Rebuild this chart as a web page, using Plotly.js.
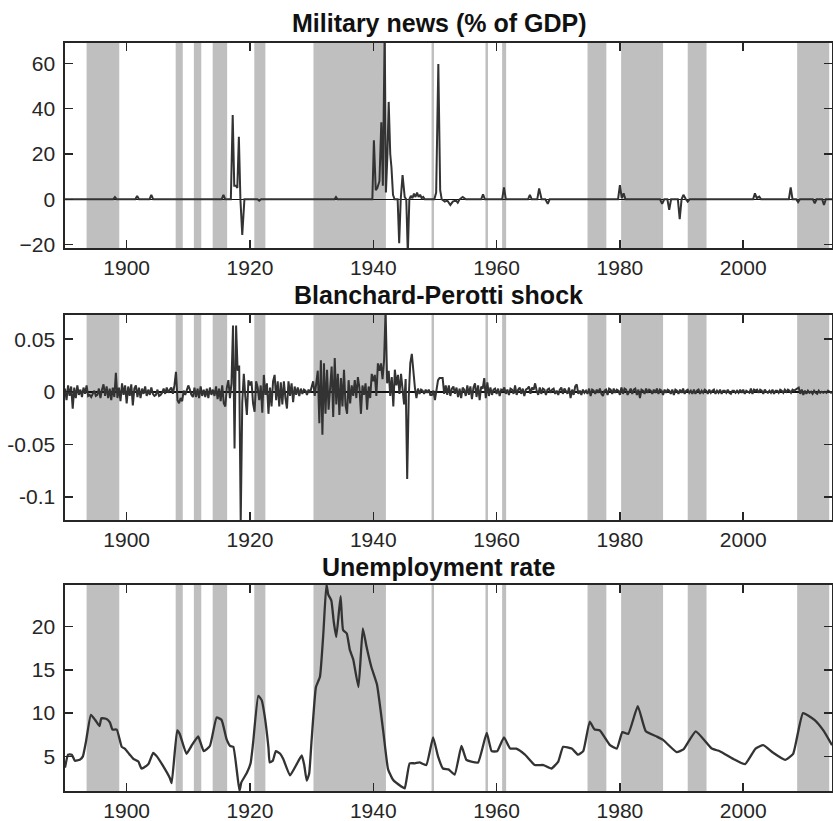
<!DOCTYPE html>
<html>
<head>
<meta charset="utf-8">
<script src="https://cdn.plot.ly/plotly-3.0.1.min.js"></script>
<style>html,body{margin:0;padding:0;background:#fff;}#chart{width:833px;height:821px;}</style>
</head>
<body>
<div id="chart"></div>
<script>
// ---------- data ----------
const panelTitles = ["Military news (% of GDP)", "Blanchard-Perotti shock", "Unemployment rate"];

// slack periods (unemployment above threshold), shaded
const bandStart = [1893.5, 1907.95, 1910.9, 1913.95, 1920.7, 1930.3, 1949.45, 1958.2, 1960.9, 1974.75, 1980.2, 1991.0, 2008.75];
const bandEnd   = [1898.8, 1909.1, 1912.1, 1916.3, 1922.5, 1942.05, 1949.85, 1958.6, 1961.55, 1977.8, 1987.0, 1994.05, 2013.95];

// Military news (% of GDP)
const milDates = [1890, 1897.8, 1898.1, 1898.4, 1901.4, 1901.7, 1902.0, 1903.7, 1904.0, 1904.3,
  1915.4, 1915.7, 1916.0, 1916.9, 1917.2, 1917.45, 1917.7, 1917.95, 1918.2, 1918.45, 1918.75, 1919.1,
  1921.2, 1921.5, 1921.8, 1933.7, 1933.95, 1934.2,
  1939.6, 1939.85, 1940.1, 1940.4, 1940.65, 1941.0, 1941.3, 1941.55, 1941.85, 1942.05, 1942.3, 1942.5,
  1942.75, 1942.95, 1943.2, 1943.45, 1943.95, 1944.2, 1944.45, 1944.75, 1945.1, 1945.35, 1945.6, 1945.85,
  1946.1, 1946.35, 1946.6, 1946.85, 1947.1, 1947.35, 1947.6, 1947.85, 1948.1, 1948.35,
  1949.9, 1950.2, 1950.55, 1950.85, 1951.1, 1951.6, 1952.0, 1952.5, 1952.9, 1953.4, 1953.7, 1954.0, 1954.5, 1955.0,
  1957.5, 1957.8, 1958.1, 1960.9, 1961.2, 1961.5, 1965.1, 1965.4, 1965.7, 1966.6, 1966.9, 1967.3, 1967.9, 1968.3, 1968.6,
  1979.7, 1980.0, 1980.3, 1980.6, 1980.9, 1986.5, 1986.85, 1987.2, 1987.7, 1988.0, 1988.3,
  1989.4, 1989.7, 1990.0, 1990.3, 1990.7, 1991.0, 1991.3,
  2001.6, 2001.9, 2002.2, 2002.6, 2002.9, 2007.4, 2007.7, 2008.0, 2008.6, 2008.9, 2009.2,
  2011.3, 2011.6, 2011.9, 2012.8, 2013.1, 2013.4, 2014.4];
const milNews = [0, 0, 1, 0, 0, 1.5, 0, 0, 2, 0,
  0, 2, 0, 0, 37.2, 6, 6, 5, 27.6, 0, -15.7, 0,
  0, -0.6, 0, 0, 1, 0,
  0, 0, 26, 4, 5, 8, 34, 6, 75, 3, 20, 43,
  20, 14, 2, 0, 0, -19.4, 0, 10.7, 1, 0, -24, 0,
  1.5, 0.5, 2.5, 1, 3, 1, 2, 0.5, 1, 0,
  0, 3, 59.7, 4, 0, -1, -0.5, -2.5, -1, -0.5, -1.5, 0, 1, 0,
  0, 2.2, 0, 0, 5.3, 0, 0, 2, 0, 0, 4.8, 0, 0, -2, 0,
  0, 6.3, 0.5, 2.6, 0, 0, -2, 0, 0, -4.7, 0,
  0, -8.8, 0, 2, 0, -1, 0,
  0, 2.6, 0.5, 1.2, 0, 0, 5.3, 0, 0, -1.3, 0,
  0, -1.8, 0, 0, -2.5, 0, 0];

// Blanchard-Perotti shock, quarterly from 1890Q1
const bpStart = 1890;
const bpShock = [
  0.003, -0.008, 0.006, -0.004,   0.005, -0.016, 0.004, -0.006,   0.006, -0.003, 0.002, -0.005,   0.004, -0.002, 0.006, -0.004,
  -0.003, -0.005, -0.002, 0.001,  -0.004, -0.003, 0.003, -0.006,  0.002, 0.007, -0.004, 0.005,    -0.006, 0.003, -0.008, 0.004,
  -0.005, 0.018, -0.006, 0.004,   -0.009, 0.008, -0.003, 0.006,
  -0.011, 0.005, -0.004, 0.007,   -0.013, 0.003, 0.006, -0.005,   0.004, -0.006, 0.003, -0.002,   0.005, -0.004, 0.002, -0.003,
  0.004, -0.002, -0.004, -0.003,  0.002, -0.004, -0.003, -0.001,  0.003, -0.002, 0.004, -0.001,   0.002, 0.004, -0.002, 0.006,
  0.019, -0.008, -0.011, -0.006,  -0.009, 0.001, -0.003, 0.002,
  0.006, 0.002, -0.003, -0.005,   0.004, -0.005, 0.003, -0.006,   0.005, -0.004, 0.002, -0.005,   0.003, -0.006, 0.004, -0.003,
  0.002, -0.004, 0.005, -0.007,   0.003, -0.009, 0.006, -0.011,   -0.014, 0.004, 0.011, -0.006,   0.008, 0.063, -0.054, 0.063,
  0.020, 0.025, -0.125, -0.010,   0.017, -0.005, -0.022, 0.011,
  0.006, 0.010, -0.011, -0.019,   0.010, 0.004, -0.008, 0.006,    -0.020, 0.016, -0.003, 0.008,   -0.021, 0.004, -0.014, 0.010,
  0.016, -0.008, 0.010, -0.014,   0.009, -0.012, 0.010, -0.006,   -0.016, 0.010, -0.004, 0.008,   -0.010, 0.005, -0.003, 0.004,
  -0.004, 0.003, -0.002, 0.002,   0.001, -0.003, 0.002, -0.001,
  0.004, 0.010, -0.004, 0.006,    0.020, -0.030, 0.030, -0.041,   0.027, -0.021, 0.021, -0.017,   0.004, 0.024, -0.024, 0.032,
  -0.012, 0.017, -0.022, 0.013,   -0.014, 0.021, -0.013, -0.021,  0.011, -0.011, 0.006, -0.004,   0.011, -0.006, 0.014, 0.004,
  -0.021, 0.006, -0.003, 0.008,   -0.017, 0.005, -0.006, 0.017,
  0.010, 0.016, -0.004, 0.027,    0.020, 0.027, 0.012, 0.030,     0.078, 0.008, 0.020, -0.004,    0.014, -0.014, 0.021, 0.006,
  0.016, -0.002, 0.017, 0.004,    -0.012, 0.012, -0.083, -0.005,  0.027, 0.036, 0.019, 0.004,     -0.006, 0.003, -0.002, 0.002,
  0.001, -0.002, 0.002, -0.001,   0.002, -0.003, -0.003, 0.001,
  -0.008, 0.004, 0.011, 0.013,    0.013, 0.013, -0.002, 0.006,    -0.003, 0.006, -0.004, 0.003,   0.005, -0.002, 0.004, -0.005,
  0.003, -0.006, 0.004, 0.002,    -0.004, 0.006, -0.003, 0.005,   -0.007, 0.004, 0.008, -0.005,   0.006, -0.008, 0.005, 0.003,
  0.013, -0.006, 0.009, -0.004,   0.004, -0.003, 0.002, 0.003,
  -0.002, 0.003, -0.004, 0.002,   0.001, 0.004, -0.002, 0.002,    -0.003, 0.003, 0.002, -0.002,   0.006, -0.003, 0.002, 0.004,
  -0.002, 0.003, -0.004, 0.002,   0.003, 0.005, -0.002, 0.004,    0.002, 0.008, 0.001, -0.003,    0.004, -0.002, 0.003, 0.002,
  -0.003, 0.002, 0.003, -0.001,   0.002, 0.003, -0.002, 0.001,
  -0.003, 0.002, 0.004, -0.002,   0.003, 0.001, -0.002, 0.004,    -0.006, 0.002, -0.003, 0.005,   0.007, -0.002, 0.001, -0.003,
  0.002, -0.001, 0.001, -0.002,   0.003, -0.004, 0.002, 0.001,    -0.002, 0.002, -0.001, 0.003,   -0.002, -0.004, 0.001, 0.002,
  -0.003, 0.003, 0.002, -0.002,   0.003, -0.001, 0.002, 0.001,
  -0.003, 0.004, -0.002, 0.003,   0.002, -0.003, 0.001, 0.003,    -0.002, 0.002, 0.003, -0.003,   0.002, -0.006, 0.002, 0.001,
  -0.002, 0.003, -0.001, 0.002,   0.001, -0.002, 0.002, -0.001,   0.003, -0.002, 0.002, 0.001,    -0.003, 0.002, -0.001, 0.002,
  0.001, -0.002, 0.002, -0.003,   0.002, 0.001, -0.002, 0.002,
  -0.001, 0.003, -0.002, 0.001,   0.002, -0.001, 0.001, -0.002,   0.002, -0.002, 0.001, 0.002,    -0.002, 0.001, -0.001, 0.002,
  0.001, -0.002, 0.002, -0.001,   0.001, 0.002, -0.002, 0.001,    -0.001, 0.002, -0.002, 0.001,   0.001, -0.001, 0.002, -0.001,
  -0.002, 0.001, 0.001, -0.001,   0.001, -0.001, 0.002, -0.001,
  0.002, -0.002, 0.001, 0.000,    -0.001, 0.003, -0.002, 0.002,   0.001, 0.002, -0.001, 0.002,    0.001, -0.002, 0.002, 0.000,
  -0.001, 0.001, -0.001, 0.002,   -0.002, 0.001, 0.001, -0.001,   0.002, 0.001, -0.001, 0.002,    0.000, 0.002, 0.001, -0.001,
  0.002, 0.001, 0.002, 0.003,     0.004, -0.002, 0.002, -0.003,
  0.001, -0.002, 0.001, -0.001,   0.000, -0.002, 0.001, -0.001,   -0.002, 0.001, -0.001, 0.000,   -0.001, 0.000, -0.001, 0.001,
  0.000, -0.001, 0.000
];

// Unemployment rate (%)
const unempDates = [1890.0, 1890.5, 1891.1, 1891.6, 1892.4, 1892.9, 1893.4, 1894.2, 1894.9, 1895.6, 1895.9, 1896.8, 1897.3, 1897.7,
  1898.4, 1899.2, 1899.7, 1900.5, 1901.1, 1901.9, 1902.4, 1903.2, 1903.6, 1904.3, 1904.9, 1905.9, 1907.0, 1907.3,
  1908.2, 1908.6, 1909.7, 1910.5, 1911.6, 1912.5, 1913.5, 1914.6, 1915.4, 1916.2, 1916.8, 1917.3, 1918.3, 1918.6,
  1919.5, 1920.1, 1920.5, 1921.35, 1921.9, 1922.4, 1923.0, 1923.2, 1923.7, 1924.2, 1924.9, 1925.4, 1926.5, 1927.5,
  1928.4, 1928.8, 1929.2, 1929.6, 1930.0, 1930.7, 1931.35, 1931.9, 1932.4, 1932.7, 1933.2, 1933.6, 1934.0, 1934.7,
  1935.1, 1935.7, 1936.2, 1936.75, 1937.6, 1938.3, 1938.9, 1939.7, 1940.6, 1941.6, 1942.4, 1943.2, 1944.6, 1945.1,
  1945.9, 1946.75, 1947.5, 1948.6, 1949.7, 1950.5, 1951.3, 1952.2, 1953.2, 1954.3, 1955.1, 1955.9, 1957.0, 1958.4,
  1959.2, 1960.1, 1961.2, 1962.2, 1963.2, 1964.6, 1966.2, 1967.6, 1968.9, 1970.0, 1970.8, 1972.2, 1973.2, 1974.05,
  1975.1, 1975.9, 1976.75, 1978.4, 1979.5, 1980.4, 1981.35, 1982.9, 1984.2, 1985.95, 1987.0, 1989.2, 1990.3, 1992.3,
  1994.9, 1996.2, 1998.4, 2000.3, 2002.0, 2003.25, 2004.9, 2006.8, 2008.1, 2009.7, 2011.6, 2013.0, 2014.4];
const unempRate = [3.7, 5.2, 5.2, 4.5, 4.6, 5.0, 6.7, 9.8, 9.2, 8.5, 9.4, 9.3, 8.9, 8.1,
  8.1, 6.1, 5.9, 5.2, 4.7, 4.4, 3.6, 3.9, 4.2, 5.4, 5.0, 3.9, 2.5, 1.9,
  8.0, 7.6, 5.3, 6.2, 7.3, 5.6, 6.2, 9.5, 9.2, 7.0, 6.2, 6.1, 1.0, 2.0,
  3.1, 4.2, 6.5, 12.0, 11.5, 9.6, 6.0, 4.3, 4.5, 5.6, 5.3, 4.7, 2.8, 4.0,
  5.1, 4.0, 2.2, 3.0, 6.9, 13.0, 14.2, 19.2, 24.9, 23.7, 23.0, 20.5, 18.8, 23.5,
  19.6, 19.2, 17.3, 16.2, 13.0, 19.8, 17.7, 15.3, 13.3, 8.0, 3.5, 2.3, 1.5, 1.3,
  4.2, 4.2, 4.3, 4.0, 7.2, 5.0, 3.6, 3.5, 2.9, 6.2, 4.6, 4.4, 4.3, 7.7,
  5.6, 5.6, 7.2, 5.9, 5.9, 5.2, 4.0, 4.0, 3.6, 4.4, 6.1, 5.9, 5.2, 5.6,
  9.0, 8.1, 8.0, 6.3, 5.9, 7.8, 7.6, 10.8, 7.9, 7.3, 6.9, 5.5, 5.8, 7.9,
  5.9, 5.6, 4.7, 4.1, 5.9, 6.3, 5.4, 4.6, 5.3, 10.0, 9.2, 8.0, 6.3];

// axis ticks
const xTicks = [1900, 1920, 1940, 1960, 1980, 2000];
const y1Ticks = [-20, 0, 20, 40, 60];
const y2Ticks = [-0.1, -0.05, 0, 0.05];
const y2Text = ["-0.1", "-0.05", "0", "0.05"];
const y3Ticks = [5, 10, 15, 20];

// ---------- chart ----------
const lineCol = '#333333';
const axCol = '#262626';
const tickFont = {family: 'Liberation Sans, Arial, sans-serif', size: 21, color: axCol};

const traces = [
  {x: milDates, y: milNews, type: 'scatter', mode: 'lines', line: {color: lineCol, width: 2}, xaxis: 'x', yaxis: 'y', hoverinfo: 'skip'},
  {x0: bpStart, dx: 0.25, y: bpShock, type: 'scatter', mode: 'lines', line: {color: lineCol, width: 2}, xaxis: 'x2', yaxis: 'y2', hoverinfo: 'skip'},
  {x: unempDates, y: unempRate, type: 'scatter', mode: 'lines', line: {color: lineCol, width: 2.3, shape: 'spline', smoothing: 0.4}, xaxis: 'x3', yaxis: 'y3', hoverinfo: 'skip'}
];

function xax(anchor) {
  return {range: [1890, 2014.4], tickvals: xTicks, ticks: 'inside', ticklen: 8, tickwidth: 1.5, tickcolor: axCol,
    showline: true, linecolor: axCol, linewidth: 1.6, mirror: 'allticks', showgrid: false, zeroline: false,
    tickfont: tickFont, anchor: anchor, fixedrange: true};
}
function yax(anchor, domain, range, tv, tt, zl) {
  const o = {domain: domain, range: range, tickvals: tv, ticks: 'inside', ticklen: 8, tickwidth: 1.5, tickcolor: axCol,
    showline: true, linecolor: axCol, linewidth: 1.6, mirror: 'allticks', showgrid: false,
    zeroline: zl, zerolinecolor: '#111111', zerolinewidth: 1.6,
    tickfont: tickFont, anchor: anchor, fixedrange: true, ticklabelstandoff: 4};
  if (tt) o.ticktext = tt;
  return o;
}

const shapes = [];
['y', 'y2', 'y3'].forEach((ya, i) => {
  const xa = i === 0 ? 'x' : 'x' + (i + 1);
  bandStart.forEach((s, k) => {
    shapes.push({type: 'rect', xref: xa, yref: ya + ' domain', x0: s, x1: bandEnd[k], y0: 0, y1: 1,
      fillcolor: '#bfbfbf', line: {width: 0}, layer: 'below'});
  });
});

const plotH = 748;
function py(p) { return (791 - p) / plotH; }
const titleY = [23.5, 295, 566.5];
const annotations = panelTitles.map((t, i) => ({
  text: '<b>' + t + '</b>', xref: 'paper', yref: 'paper', x: 0.487, y: py(titleY[i]),
  xanchor: 'center', yanchor: 'middle', showarrow: false,
  font: {family: 'Liberation Sans, Arial, sans-serif', size: 25, color: '#111111'}
}));

const layout = {
  width: 833, height: 821,
  margin: {l: 65, r: 1, t: 43, b: 30, pad: 0},
  paper_bgcolor: '#ffffff', plot_bgcolor: '#ffffff',
  showlegend: false,
  xaxis: xax('y'), xaxis2: xax('y2'), xaxis3: xax('y3'),
  yaxis: yax('x', [py(248), 1], [-21.5, 69], y1Ticks, null, true),
  yaxis2: yax('x2', [py(520), py(315)], [-0.122, 0.073], y2Ticks, y2Text, true),
  yaxis3: yax('x3', [0, py(585)], [1.0, 24.8], y3Ticks, null, false),
  shapes: shapes,
  annotations: annotations
};

Plotly.newPlot('chart', traces, layout, {displayModeBar: false, staticPlot: true});
</script>
</body>
</html>
